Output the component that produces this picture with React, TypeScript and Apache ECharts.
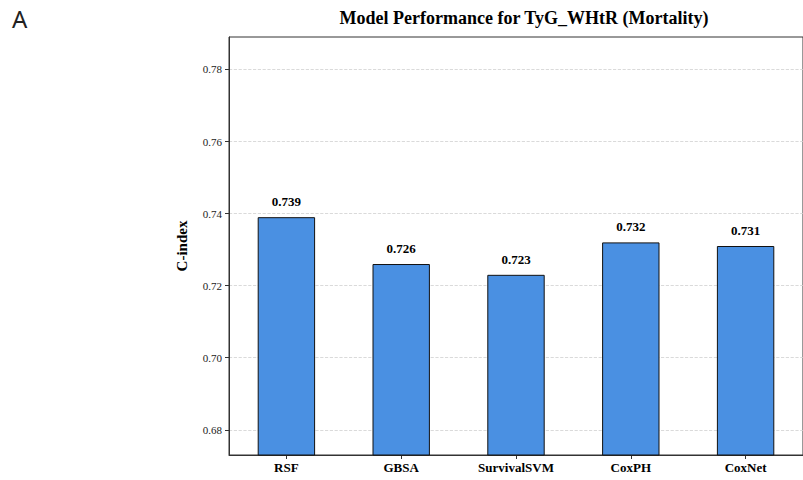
import React, { useEffect, useRef } from "react";
import * as echarts from "echarts";

const categories = ["RSF", "GBSA", "SurvivalSVM", "CoxPH", "CoxNet"];
const cIndex = [0.739, 0.726, 0.723, 0.732, 0.731];
const yTicks = [0.68, 0.7, 0.72, 0.74, 0.76, 0.78];
const yMin = 0.673;
const yMax = 0.789;

const SERIF = "'Liberation Serif', 'Times New Roman', serif";

export default function App() {
  const ref = useRef<HTMLDivElement>(null);
  useEffect(() => {
    if (!ref.current) return;
    const chart = echarts.init(ref.current, null, { renderer: "svg" });
    chart.setOption({
      animation: false,
      backgroundColor: "#ffffff",
      title: {
        text: "Model Performance for TyG_WHtR (Mortality)",
        left: 519,
        top: 4,
        textAlign: "center",
        textStyle: { fontFamily: SERIF, fontSize: 18, fontWeight: "bold", color: "#000" },
      },
      graphic: [
        {
          type: "text",
          left: 12,
          top: 6,
          style: { text: "A", fontFamily: "'Noto Sans', sans-serif", fontSize: 24, fontWeight: "normal", fill: "#222" },
        },
      ],
      grid: {
        left: 229,
        top: 37,
        width: 585,
        height: 418,
        show: true,
        borderColor: "#333",
        borderWidth: 1,
        containLabel: false,
      },
      xAxis: {
        type: "category",
        data: categories,
        axisLine: { show: true, lineStyle: { color: "#333", width: 1 } },
        axisTick: { show: true, alignWithLabel: true, length: 4, lineStyle: { color: "#333" } },
        axisLabel: { fontFamily: SERIF, fontSize: 13, fontWeight: "bold", color: "#000", margin: 6 },
        splitLine: { show: false },
      },
      yAxis: {
        type: "value",
        min: yMin,
        max: yMax,
        name: "C-index",
        nameLocation: "middle",
        nameGap: 40,
        nameRotate: 90,
        nameTextStyle: { fontFamily: SERIF, fontSize: 15, fontWeight: "bold", color: "#000" },
        axisLine: { show: true, lineStyle: { color: "#333", width: 1 } },
        axisTick: { show: true, length: 4, customValues: yTicks, lineStyle: { color: "#333" } },
        axisLabel: {
          fontFamily: SERIF,
          fontSize: 11,
          color: "#222",
          margin: 7,
          customValues: yTicks,
          formatter: (v: number) => v.toFixed(2),
        },
        splitLine: { show: true, lineStyle: { color: "#d0d0d0", type: "dashed", width: 0.8 } },
      },
      series: [
        {
          type: "bar",
          data: cIndex,
          barWidth: "50%",
          itemStyle: { color: "#4a90e2", borderColor: "#111", borderWidth: 1 },
          label: {
            show: true,
            position: "top",
            distance: 9,
            fontFamily: SERIF,
            fontSize: 13,
            fontWeight: "bold",
            color: "#000",
            formatter: (p: any) => Number(p.value).toFixed(3),
          },
        },
      ],
    });
    return () => chart.dispose();
  }, []);
  return (
    <div
      ref={ref}
      style={{ position: "absolute", left: 0, top: 0, width: 803, height: 480, overflow: "hidden" }}
    />
  );
}
